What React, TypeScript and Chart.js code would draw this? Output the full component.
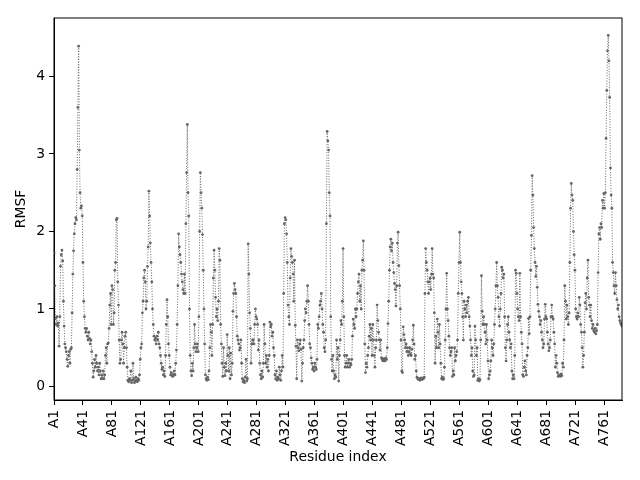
import React, { useEffect, useRef } from 'react';
import { Chart, registerables } from 'chart.js';

Chart.register(...registerables);

// RMSF per residue (chain A, residues 1..785)
const rmsf = [
  1.72, 1.3, 0.88, 0.8, 0.9, 0.78, 0.82, 0.52, 0.9, 1.55,
  1.7, 1.76, 1.62, 1.1, 0.78, 0.55, 0.5, 0.45, 0.35, 0.26,
  0.4, 0.45, 0.3, 0.48, 0.5, 0.95, 1.45, 1.75, 1.97, 2.1,
  2.18, 2.15, 2.8, 3.6, 4.39, 3.05, 2.5, 2.3, 2.33, 2.2,
  1.6, 1.1, 0.9, 0.75, 0.7, 0.75, 0.65, 0.6, 0.7, 0.62,
  0.55, 0.6, 0.45, 0.3, 0.12, 0.2, 0.35, 0.25, 0.4, 0.3,
  0.2, 0.25, 0.15, 0.3, 0.2, 0.1, 0.15, 0.1, 0.2, 0.1,
  0.15, 0.4, 0.5, 0.3, 0.55, 0.56, 0.75, 1.05, 1.2, 0.8,
  1.3, 1.25, 0.8, 0.95, 1.5, 1.6, 2.15, 2.17, 1.35, 1.05,
  0.6, 0.3, 0.35, 0.6, 0.7, 0.55, 0.3, 0.5, 0.65, 0.7,
  0.5, 0.25, 0.08, 0.06, 0.1, 0.08, 0.2, 0.05, 0.08, 0.3,
  0.1, 0.05, 0.07, 0.12, 0.08, 0.06, 0.1, 0.08, 0.15, 0.35,
  0.5, 0.55, 0.95, 1.1, 1.4, 1.5, 1.35, 1.0, 1.1, 1.55,
  1.8, 2.52, 2.2, 1.85, 1.6, 1.35, 1.0, 0.8, 0.65, 0.6,
  0.62, 0.55, 0.65, 0.6, 0.7, 0.55, 0.5, 0.4, 0.3, 0.22,
  0.25, 0.15, 0.2, 0.13, 0.4, 0.8, 1.12, 0.9, 0.55, 0.4,
  0.25, 0.15, 0.18, 0.14, 0.13, 0.16, 0.2, 0.15, 0.3, 0.47,
  0.8, 1.3, 1.97, 1.8, 1.7, 1.6, 1.45, 1.35, 1.25, 1.2,
  1.45, 1.2, 2.1, 2.76, 3.38, 2.5, 2.2, 1.0, 0.4, 0.2,
  0.14, 0.3, 0.2, 0.5, 0.8, 0.55, 0.45, 0.5, 0.55, 0.45,
  0.9, 2.0, 2.76, 2.5, 2.3, 1.96, 1.5, 1.0, 0.55, 0.15,
  0.1, 0.08, 0.12, 0.09, 0.2, 0.5, 0.8, 0.7, 0.4, 0.8,
  1.4, 1.76, 1.5, 1.15, 0.9, 1.0, 0.85, 1.1, 1.78, 1.63,
  0.8, 0.55, 0.3, 0.13, 0.5, 0.25, 0.14, 0.3, 0.2, 0.67,
  0.4, 0.2, 0.5, 0.1, 0.43, 0.15, 0.3, 0.97, 1.2, 1.33,
  1.25, 1.2, 0.9, 0.65, 0.6, 0.55, 0.47, 0.5, 0.6, 0.3,
  0.1, 0.06, 0.08, 0.05, 0.12, 0.35, 0.07, 0.1, 1.84, 1.45,
  0.95, 0.75, 0.3, 0.55, 0.6, 0.6, 0.55, 0.8, 1.0, 0.9,
  0.87, 0.8, 0.47, 0.6, 0.3, 0.15, 0.1, 0.2, 0.12, 0.3,
  0.8, 0.55, 0.3, 0.4, 0.25, 0.35, 0.2, 0.4, 0.83, 0.77,
  0.8, 0.65, 0.7, 0.5, 0.4, 0.15, 0.1, 0.2, 0.08, 0.12,
  0.1, 0.25, 0.15, 0.08, 0.2, 0.4, 0.25, 1.2, 2.1, 2.18,
  2.15, 1.97, 1.6, 1.05, 0.9, 0.8, 1.4, 1.78, 1.68, 1.6,
  1.45, 1.1, 1.63, 0.79, 0.52, 0.1, 0.6, 0.5, 0.46, 0.55,
  0.6, 0.48, 0.07, 0.3, 0.5, 0.6, 0.85, 1.0, 0.95, 1.1,
  1.3, 1.1, 0.8, 0.55, 0.5, 0.37, 0.3, 0.22, 0.25, 0.2,
  0.3, 0.25, 0.22, 0.35, 0.8, 0.75, 0.9, 1.05, 1.1, 1.2,
  1.0, 0.8, 0.7, 0.5, 0.45, 0.6, 2.1, 3.29, 3.17, 3.05,
  2.5, 2.2, 0.9, 0.35, 0.2, 0.4, 0.2, 0.1, 0.15, 0.12,
  0.6, 0.35, 0.5, 0.07, 0.4, 0.6, 0.85, 0.8, 1.1, 1.78,
  0.9, 0.4, 0.25, 0.3, 0.4, 0.25, 0.3, 0.35, 0.25, 0.3,
  0.28, 0.35, 0.65, 0.87, 0.8, 0.75, 1.0, 0.9, 1.0, 1.2,
  1.35, 1.45, 1.1, 1.3, 1.0, 1.5, 1.63, 1.88, 1.5, 0.55,
  0.18, 0.3, 0.25, 0.4, 0.5, 0.65, 0.8, 0.6, 0.75, 0.4,
  0.8, 0.6, 0.4, 0.25, 0.5, 0.6, 1.05, 0.85, 0.7, 0.6,
  0.47, 0.6, 0.37, 0.35, 0.33, 0.36, 0.34, 0.33, 0.37, 0.35,
  0.5, 0.81, 1.1, 1.5, 1.8, 1.9, 1.75, 1.85, 1.6, 1.47,
  1.33, 1.25, 1.04, 1.3, 1.85, 1.99, 1.56, 1.3, 1.0, 0.6,
  0.2, 0.18, 0.77, 0.67, 0.6, 0.5, 0.55, 0.45, 0.5, 0.4,
  0.45, 0.5, 0.42, 0.4, 0.48, 0.6, 0.79, 0.55, 0.35, 0.4,
  0.2, 0.12, 0.1, 0.09, 0.1, 0.08, 0.1, 0.11, 0.09, 0.1,
  0.1, 0.12, 1.2, 1.78, 1.6, 1.5, 1.35, 1.2, 1.35, 1.4,
  1.25, 1.45, 1.78, 1.45, 1.4, 0.95, 0.3, 0.65, 0.5, 0.87,
  0.7, 0.5, 0.8, 0.55, 0.3, 0.1, 0.12, 0.09, 0.1, 0.25,
  0.6, 1.0, 1.46, 1.0, 0.85, 0.65, 0.5, 0.4, 0.45, 0.5,
  0.13, 0.2, 0.15, 0.5, 0.33, 0.4, 0.45, 0.6, 1.2, 1.6,
  1.99, 1.6, 1.35, 1.2, 0.9, 0.6, 1.1, 1.0, 0.9, 1.05,
  0.95, 1.1, 1.15, 0.9, 0.78, 0.6, 0.4, 0.5, 0.2, 0.13,
  0.15, 0.78, 0.6, 0.4, 0.5, 0.08, 0.1, 0.07, 0.09, 0.6,
  1.43, 0.97, 0.8, 0.9, 0.8, 0.7, 0.55, 0.8, 0.6, 0.33,
  0.1, 0.15, 0.2, 0.33, 0.6, 0.5, 0.4, 0.55, 0.8, 1.0,
  1.3, 1.6, 1.3, 1.15, 0.9, 0.78, 1.0, 1.2, 1.54, 1.5,
  1.4, 1.45, 0.9, 0.5, 0.33, 0.6, 0.8, 0.9, 0.7, 0.6,
  0.5, 0.55, 0.2, 0.1, 0.15, 0.1, 0.4, 1.5, 1.46, 1.2,
  1.0, 0.9, 0.85, 1.46, 0.9, 0.7, 0.55, 0.15, 0.13, 0.25,
  0.33, 0.2, 0.15, 0.4, 0.5, 0.88, 0.68, 0.9, 1.5, 1.95,
  2.72, 2.47, 2.05, 1.78, 1.6, 1.42, 1.55, 1.28, 1.06, 0.97,
  0.9, 0.8, 0.85, 0.7, 0.6, 0.5, 0.55, 0.87, 1.06, 0.9,
  0.87, 0.7, 0.55, 0.46, 0.5, 0.6, 0.9, 1.05, 0.9, 0.87,
  0.7, 0.55, 0.25, 0.4, 0.3, 0.18, 0.13, 0.15, 0.14, 0.13,
  0.16, 0.14, 0.3, 0.25, 0.6, 1.3, 1.1, 0.87, 1.05, 0.9,
  0.8, 0.95, 1.6, 2.3, 2.62, 2.47, 2.4, 2.0, 1.7, 1.5,
  1.0, 0.9, 0.87, 0.95, 0.9, 1.15, 1.05, 0.8, 0.7, 0.5,
  0.25, 0.4, 0.7, 1.08, 1.2, 1.0, 1.4, 1.63, 1.15, 1.05,
  0.9, 1.05, 0.85, 0.75, 0.8, 0.72, 0.7, 0.75, 0.68, 0.72,
  0.8, 1.47, 1.97, 2.05, 1.9, 2.1, 2.05, 2.4, 2.3, 2.49,
  2.3, 2.5, 3.2, 3.82, 4.33, 4.53, 4.2, 3.73, 2.82, 2.47,
  2.3, 1.6, 1.47, 1.3, 1.2, 1.47, 1.3, 1.12, 1.0, 1.05,
  0.9, 0.85, 0.82, 0.8, 0.78,
];

const residueLabels = rmsf.map((_, i) => `A${i + 1}`);
const tickResidues = [1, 41, 81, 121, 161, 201, 241, 281, 321, 361, 401, 441, 481, 521, 561, 601, 641, 681, 721, 761];

const FONT = { family: 'DejaVu Sans', size: 13.9 };
const LINE = '#666666';

// box around the plot area, like matplotlib spines
const frame = {
  id: 'frame',
  afterDraw(chart: any) {
    const { ctx, chartArea: a } = chart;
    ctx.save();
    ctx.strokeStyle = '#000';
    ctx.lineWidth = 1;
    ctx.strokeRect(a.left, a.top, a.right - a.left, a.bottom - a.top);
    ctx.restore();
  },
};

const RmsfChart = (): JSX.Element => {
  const canvasRef = useRef<HTMLCanvasElement>(null);

  useEffect(() => {
    const ctx = canvasRef.current.getContext('2d');
    const lo = Math.min(...rmsf);
    const hi = Math.max(...rmsf);
    const pad = (hi - lo) * 0.05;

    const chart = new Chart(ctx, {
      type: 'line',
      data: {
        datasets: [
          {
            data: rmsf.map((v, i) => ({ x: i, y: v })),
            borderColor: LINE,
            borderWidth: 1,
            borderDash: [1, 1.65],
            pointRadius: 1.4,
            pointBackgroundColor: LINE,
            pointBorderWidth: 0,
            tension: 0,
          },
        ],
      },
      options: {
        responsive: false,
        animation: false,
        layout: { padding: { left: 0, right: 18, top: 18, bottom: 0 } },
        plugins: { legend: { display: false }, tooltip: { enabled: false } },
        scales: {
          x: {
            type: 'linear',
            min: 0,
            max: rmsf.length - 1,
            afterBuildTicks: (axis: any) => {
              axis.ticks = tickResidues.map((r) => ({ value: r - 1 }));
            },
            afterFit: (axis: any) => {
              axis.height = 80;
            },
            ticks: {
              autoSkip: false,
              minRotation: 90,
              maxRotation: 90,
              padding: 5,
              color: '#000',
              font: FONT,
              callback: (v: any) => residueLabels[v],
            },
            grid: { drawOnChartArea: false, tickLength: 5, color: '#000' },
            border: { color: '#000' },
            title: { display: true, text: 'Residue index', color: '#000', font: FONT, padding: { top: 0, bottom: 14 } },
          },
          y: {
            min: lo - pad,
            max: hi + pad,
            afterFit: (axis: any) => {
              axis.width = 54;
            },
            ticks: { stepSize: 1, includeBounds: false, padding: 4, color: '#000', font: FONT },
            grid: { drawOnChartArea: false, tickLength: 5, color: '#000' },
            border: { color: '#000' },
            title: { display: true, text: 'RMSF', color: '#000', font: FONT, padding: { top: 13.5, bottom: 0 } },
          },
        },
      },
      plugins: [frame],
    });
    return () => {
      chart.destroy();
    };
  }, []);

  return <canvas ref={canvasRef} width={640} height={480} />;
};

export default function App(): JSX.Element {
  return (
    <div style={{ position: 'absolute', left: 0, top: 0, width: 640, height: 480, background: '#fff' }}>
      <RmsfChart />
    </div>
  );
}
